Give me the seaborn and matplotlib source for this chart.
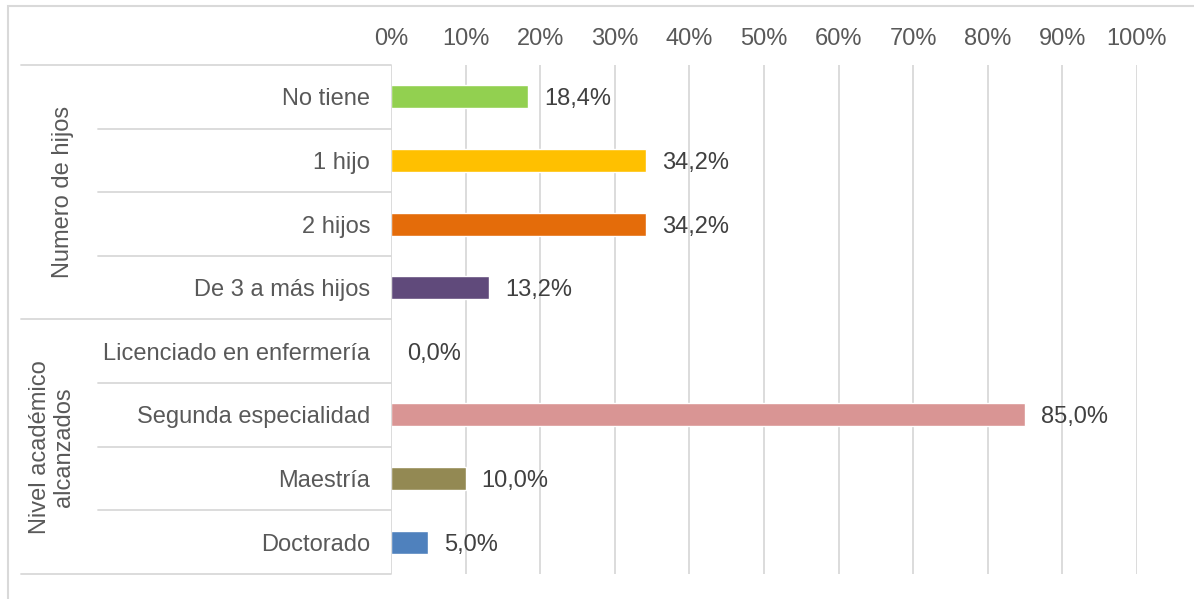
import matplotlib
matplotlib.use("Agg")
import matplotlib.pyplot as plt
import seaborn as sns
import pandas as pd
from matplotlib.patches import Rectangle
from matplotlib.ticker import FuncFormatter

categories = ["No tiene", "1 hijo", "2 hijos", "De 3 a más hijos",
              "Licenciado en enfermería", "Segunda especialidad", "Maestría", "Doctorado"]
values = [0.184, 0.342, 0.342, 0.132, 0.0, 0.85, 0.10, 0.05]
colors = ["#92D050", "#FFC000", "#E46C0A", "#604A7B",
          "#D99594", "#D99594", "#938953", "#4F81BD"]
groups = ["Numero de hijos", "Nivel académico\nalcanzados"]
x_ticks = [0, 0.1, 0.2, 0.3, 0.4, 0.5, 0.6, 0.7, 0.8, 0.9, 1.0]

sns.set_theme(style="white")
plt.rcParams["font.family"] = ["Liberation Sans", "DejaVu Sans"]

TXT = "#595959"
LINE = "#D9D9D9"

df = pd.DataFrame({"cat": categories, "val": values})

fig = plt.figure(figsize=(11.94, 5.99), dpi=100)
ax = fig.add_axes([391 / 1194, 1 - 574 / 599, 746 / 1194, 509 / 599])

sns.barplot(data=df, y="cat", x="val", hue="cat", palette=colors, legend=False,
            orient="h", width=0.36, ax=ax, saturation=1)

ax.set_xlim(0, 1)
ax.set_ylim(len(categories) - 0.5, -0.5)
ax.set_xlabel("")
ax.set_ylabel("")
ax.xaxis.tick_top()
ax.set_xticks(x_ticks)
ax.xaxis.set_major_formatter(FuncFormatter(lambda v, p: f"{v*100:.0f}%"))
ax.tick_params(axis="x", length=0, pad=11, labelsize=17, labelcolor=TXT)
ax.tick_params(axis="y", length=0, pad=15, labelsize=17, labelcolor=TXT)
for s in ax.spines.values():
    s.set_visible(False)

ax.grid(False)
for t in x_ticks[1:]:
    ax.axvline(t, color=LINE, lw=1.3, zorder=0)
ax.axvline(0, color=LINE, lw=1.3, zorder=3)

for i, v in enumerate(values):
    ax.annotate(f"{v*100:.1f}%".replace(".", ","), xy=(v, i), xytext=(11.5, 0),
                textcoords="offset points", ha="left", va="center_baseline",
                fontsize=17, color="#404040")

tr = ax.get_yaxis_transform()
x_outer = (21 - 391) / 746
x_inner = (98 - 391) / 746
for b in [-0.5, 3.5, 7.5]:
    ax.plot([x_outer, 0], [b, b], transform=tr, color=LINE, lw=1.3, clip_on=False)
for b in [0.5, 1.5, 2.5, 4.5, 5.5, 6.5]:
    ax.plot([x_inner, 0], [b, b], transform=tr, color=LINE, lw=1.3, clip_on=False)

ax.text((63 - 391) / 746, 1.5, groups[0], transform=tr, rotation=90,
        ha="center", va="center", fontsize=17, color=TXT)
ax.text((52 - 391) / 746, 5.5, groups[1], transform=tr, rotation=90,
        ha="center", va="center", fontsize=17, color=TXT, multialignment="center",
        linespacing=1.15)

fig.patches.append(Rectangle((8 / 1194, -0.05), 1.2, 1 - 6 / 599 + 0.05,
                             transform=fig.transFigure, fill=False,
                             edgecolor=LINE, lw=1.5))

fig.savefig("out.png", dpi=100)
